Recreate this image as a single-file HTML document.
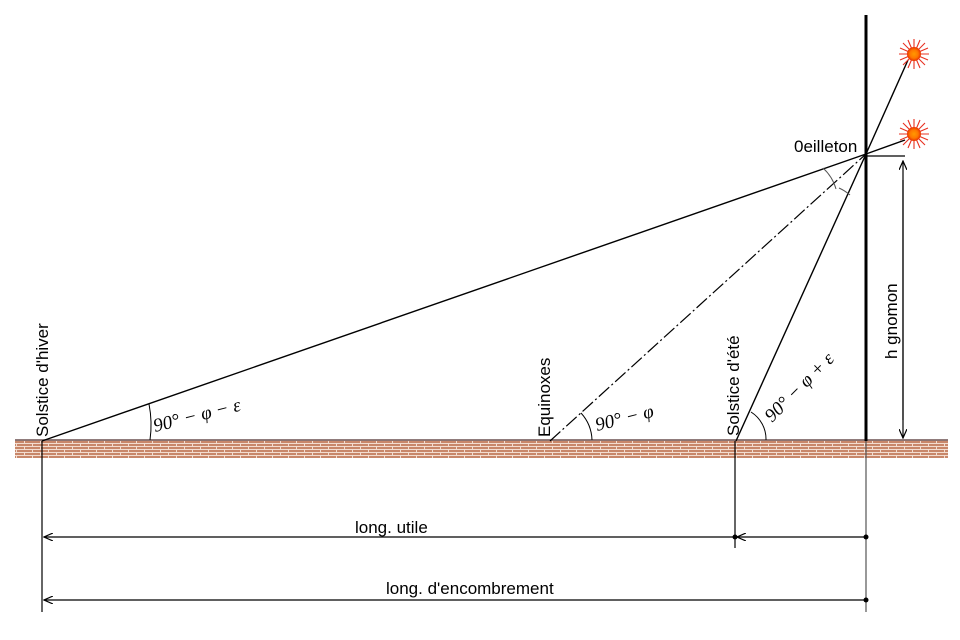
<!DOCTYPE html>
<html><head><style>body{margin:0;background:#fff}svg{display:block}</style></head><body>
<svg width="960" height="640" viewBox="0 0 960 640" xmlns="http://www.w3.org/2000/svg" font-family="Liberation Sans, sans-serif">
<defs>
<pattern id="brick" width="16" height="6" patternUnits="userSpaceOnUse">
<rect width="16" height="6" fill="#c8876a"/>
<line x1="0" y1="5.5" x2="16" y2="5.5" stroke="#f3ddd0" stroke-width="1"/>
<line x1="0.5" y1="0" x2="0.5" y2="3" stroke="#f3ddd0"/>
<line x1="0" y1="2.5" x2="16" y2="2.5" stroke="#f3ddd0" stroke-width="1"/>
<line x1="8.5" y1="3" x2="8.5" y2="6" stroke="#f3ddd0"/>
</pattern>
<radialGradient id="sun"><stop offset="0" stop-color="#ff9900"/><stop offset="0.6" stop-color="#ff7700"/><stop offset="1" stop-color="#e83000"/></radialGradient>
<marker id="ar" markerWidth="10" markerHeight="8" refX="9" refY="4" orient="auto" markerUnits="userSpaceOnUse"><path d="M0,0 L9,4 L0,8" fill="none" stroke="#000" stroke-width="1.2"/></marker>
<g id="sunG"><g stroke="#e83020" stroke-width="1.1">
<line x1="-15" y1="0" x2="15" y2="0"/><line x1="0" y1="-15" x2="0" y2="15"/><line x1="-11" y1="-11" x2="11" y2="11"/><line x1="-11" y1="11" x2="11" y2="-11"/>
<line x1="-14" y1="-6" x2="14" y2="6"/><line x1="-14" y1="6" x2="14" y2="-6"/><line x1="-6" y1="-14" x2="6" y2="14"/><line x1="6" y1="-14" x2="-6" y2="14"/></g>
<circle r="7" fill="url(#sun)"/></g>
</defs>
<rect x="15" y="440" width="933" height="18" fill="url(#brick)"/>
<line x1="15" y1="440" x2="948" y2="440" stroke="#6b5050" stroke-width="1.5"/>
<line x1="866" y1="15" x2="866" y2="441" stroke="#000" stroke-width="3"/>
<line x1="866" y1="441" x2="866" y2="612" stroke="#555" stroke-width="1.2"/>
<line x1="42" y1="441" x2="866" y2="154" stroke="#000" stroke-width="1.4"/>
<line x1="550" y1="441" x2="866" y2="154" stroke="#000" stroke-width="1.2" stroke-dasharray="14,3,2,3"/>
<line x1="736" y1="441" x2="866" y2="154" stroke="#000" stroke-width="1.4"/>
<line x1="866" y1="154" x2="908" y2="60" stroke="#000" stroke-width="1.4"/>
<line x1="866" y1="154" x2="905" y2="140" stroke="#000" stroke-width="1.4"/>
<use href="#sunG" x="914" y="54"/>
<use href="#sunG" x="914" y="134"/>
<path d="M823,168 A45,45 0 0 1 836,189" fill="none" stroke="#555" stroke-width="1"/>
<path d="M839,188 A45,45 0 0 1 850,195" fill="none" stroke="#555" stroke-width="1"/>
<path d="M149,404 A108,108 0 0 1 150,440" fill="none" stroke="#000" stroke-width="1"/>
<path d="M581,413 A42,42 0 0 1 592,440" fill="none" stroke="#000" stroke-width="1"/>
<path d="M751,412 A32,32 0 0 1 766,440" fill="none" stroke="#000" stroke-width="1"/>
<line x1="866" y1="156" x2="905" y2="156" stroke="#000" stroke-width="1.2"/>
<line x1="903" y1="420" x2="903" y2="161" stroke="#000" stroke-width="1.2" marker-end="url(#ar)"/>
<line x1="903" y1="180" x2="903" y2="438" stroke="#000" stroke-width="1.2" marker-end="url(#ar)"/>
<line x1="42" y1="441" x2="42" y2="612" stroke="#000" stroke-width="1.2"/>
<line x1="735" y1="441" x2="735" y2="548" stroke="#000" stroke-width="1.2"/>
<line x1="735" y1="537" x2="44" y2="537" stroke="#000" stroke-width="1.2" marker-end="url(#ar)"/>
<line x1="866" y1="537" x2="737" y2="537" stroke="#000" stroke-width="1.2" marker-end="url(#ar)"/>
<line x1="866" y1="600" x2="44" y2="600" stroke="#000" stroke-width="1.2" marker-end="url(#ar)"/>
<circle cx="735" cy="537" r="2.5"/><circle cx="866" cy="537" r="2.5"/><circle cx="866" cy="600" r="2.5"/>
<g font-size="17" fill="#000">
<text x="794" y="152">0eilleton</text>
<text x="355" y="533">long. utile</text>
<text x="386" y="594">long. d'encombrement</text>
<text transform="translate(48,437) rotate(-90)">Solstice d'hiver</text>
<text transform="translate(550,437) rotate(-90)">Equinoxes</text>
<text transform="translate(739,436) rotate(-90)">Solstice d'été</text>
<text transform="translate(897,359) rotate(-90)">h gnomon</text>
</g>
<g font-family="Liberation Serif, serif" font-style="italic" font-size="19" fill="#000">
<text transform="translate(155,432) rotate(-14)">90° − φ − ε</text>
<text transform="translate(597,431) rotate(-14)">90° − φ</text>
<text transform="translate(772,423) rotate(-45)">90° − φ + ε</text>
</g>
</svg>
</body></html>
